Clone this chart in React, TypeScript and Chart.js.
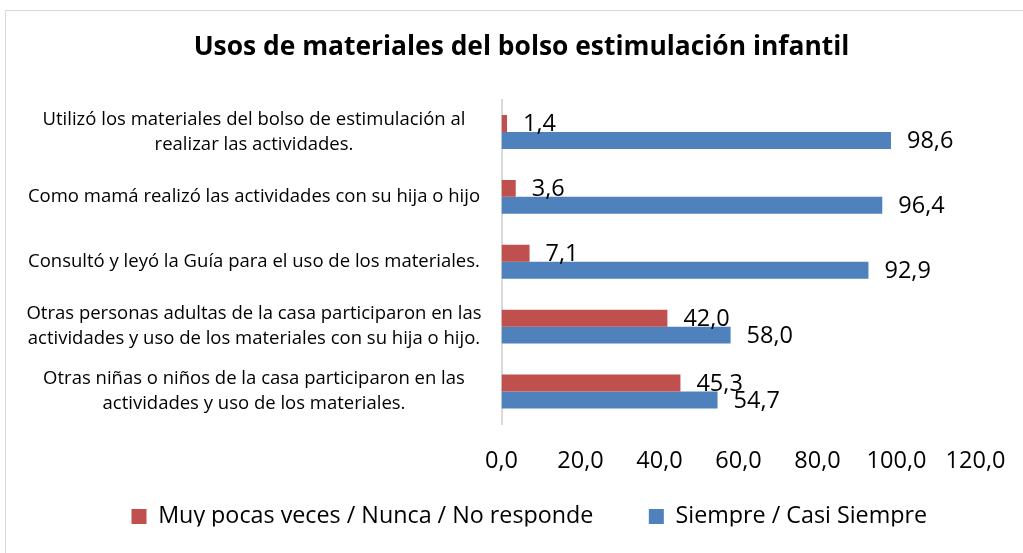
import React, { useEffect, useRef } from "react";
import { Chart, registerables } from "chart.js";

Chart.register(...registerables);

const categories: (string | string[])[] = [
  ["Utilizó los materiales del bolso de estimulación al", "realizar las actividades."],
  "Como mamá realizó las actividades con su hija o hijo",
  "Consultó y leyó la Guía para el uso de los materiales.",
  ["Otras personas adultas de la casa participaron en las", "actividades y uso de los materiales con su hija o hijo."],
  ["Otras niñas o niños de la casa participaron en las", "actividades y uso de los materiales."],
];
const seriesNames = ["Muy pocas veces / Nunca / No responde", "Siempre / Casi Siempre"];
const muyPocasValues = [1.4, 3.6, 7.1, 42.0, 45.3];
const siempreValues = [98.6, 96.4, 92.9, 58.0, 54.7];
const xMin = 0;
const xMax = 120;
const xStep = 20;
const titleText = "Usos de materiales del bolso estimulación infantil";

const FONT = "'Open Sans', sans-serif";
const RED = "#C0504D";
const BLUE = "#4F81BD";

const W = 1023;
const H = 553;
const PAD_LEFT = 20;
const PLOT_LEFT = 501.5;
const PLOT_RIGHT = 975.5;
const LEGEND_CENTER_X = 529.3;
const LEGEND_CENTER_Y = 516.5;
const LEGEND_FONT = 23.3;
const LEGEND_PAD = 55.4;
const LABEL_FONT = 23.5;
const TICK_FONT = 23.5;
const YLABEL_FONT = 18.5;
const TITLE_FONT = 26.4;

const fmt = (v: number) => v.toFixed(1).replace(".", ",");

const frame = {
  id: "frame",
  beforeDraw(chart: any) {
    const ctx = chart.ctx;
    ctx.save();
    ctx.fillStyle = "#ffffff";
    ctx.fillRect(0, 0, chart.width, chart.height);
    ctx.strokeStyle = "#d9d9d9";
    ctx.lineWidth = 1;
    ctx.strokeRect(5.5, 10.5, chart.width + 20, chart.height + 20);
    ctx.restore();
  },
};

const placeLegend = {
  id: "placeLegend",
  afterLayout(chart: any) {
    const lg = chart.legend;
    if (!lg) return;
    const h = lg.height;
    const w = lg.width;
    lg.top = LEGEND_CENTER_Y - LEGEND_PAD - LEGEND_FONT / 2;
    lg.bottom = lg.top + h;
    lg.left = LEGEND_CENTER_X - w / 2;
    lg.right = lg.left + w;
  },
};

const valueLabels = {
  id: "valueLabels",
  afterDatasetsDraw(chart: any) {
    const ctx = chart.ctx;
    ctx.save();
    ctx.font = `${LABEL_FONT}px ${FONT}`;
    ctx.fillStyle = "#000000";
    ctx.textAlign = "left";
    ctx.textBaseline = "middle";
    chart.data.datasets.forEach((ds: any, di: number) => {
      const meta = chart.getDatasetMeta(di);
      meta.data.forEach((bar: any, i: number) => {
        const v = ds.data[i] as number;
        ctx.fillText(fmt(v), bar.x + 16, bar.y + 1);
      });
    });
    ctx.restore();
  },
};

export default function App() {
  const ref = useRef<HTMLCanvasElement | null>(null);

  useEffect(() => {
    if (!ref.current) return;
    const chart = new Chart(ref.current, {
      type: "bar",
      data: {
        labels: categories,
        datasets: [
          {
            label: seriesNames[0],
            data: muyPocasValues,
            backgroundColor: RED,
            borderWidth: 0,
            categoryPercentage: 34 / 65,
            barPercentage: 1,
          },
          {
            label: seriesNames[1],
            data: siempreValues,
            backgroundColor: BLUE,
            borderWidth: 0,
            categoryPercentage: 34 / 65,
            barPercentage: 1,
          },
        ],
      },
      options: {
        indexAxis: "y",
        responsive: false,
        animation: false,
        devicePixelRatio: 1,
        layout: { padding: { left: PAD_LEFT, right: 0, top: 0, bottom: 0 } },
        plugins: {
          title: {
            display: true,
            text: titleText,
            color: "#000000",
            font: { family: FONT, size: TITLE_FONT, weight: "bold", lineHeight: 1.2 },
            padding: { top: 47.5 - (TITLE_FONT * 1.2) / 2, bottom: 99.5 - 47.5 - (TITLE_FONT * 1.2) / 2 },
          },
          legend: {
            display: true,
            position: "bottom",
            maxHeight: 553 - 424 - 52,
            labels: {
              boxWidth: 15,
              boxHeight: 15,
              padding: LEGEND_PAD,
              color: "#000000",
              font: { family: FONT, size: LEGEND_FONT },
            },
          },
          tooltip: { enabled: false },
        },
        scales: {
          x: {
            min: xMin,
            max: xMax,
            grid: { display: false, drawTicks: false },
            border: { display: false },
            ticks: {
              stepSize: xStep,
              padding: 23.6,
              color: "#000000",
              font: { family: FONT, size: TICK_FONT, lineHeight: 1.2 },
              maxRotation: 0,
              callback: (v: any) => fmt(Number(v)),
            },
            afterFit: (scale: any) => {
              scale.paddingLeft = 0;
              scale.paddingRight = W - PLOT_RIGHT;
              scale.height = 52;
            },
          },
          y: {
            grid: { display: false, drawTicks: false },
            border: { display: true, color: "#d9d9d9", width: 2 },
            ticks: {
              crossAlign: "center",
              padding: 20,
              color: "#000000",
              autoSkip: false,
              font: { family: FONT, size: YLABEL_FONT, lineHeight: 25 / YLABEL_FONT },
            },
            afterFit: (scale: any) => {
              scale.width = PLOT_LEFT - PAD_LEFT;
            },
          },
        },
      },
      plugins: [frame, placeLegend, valueLabels],
    });
    return () => chart.destroy();
  }, []);

  return (
    <div style={{ position: "absolute", left: 0, top: 0, width: W, height: H }}>
      <canvas ref={ref} width={W} height={H} style={{ display: "block", width: W, height: H }} />
    </div>
  );
}
